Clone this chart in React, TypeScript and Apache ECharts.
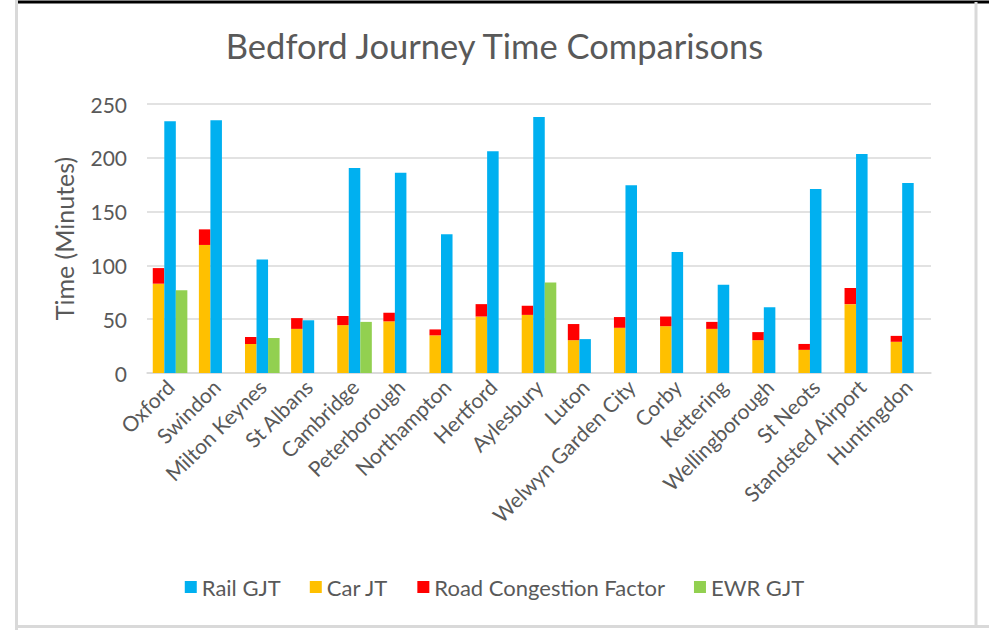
import React, { useEffect, useRef } from "react";
import * as echarts from "echarts";

const categories = [
  "Oxford", "Swindon", "Milton Keynes", "St Albans", "Cambridge", "Peterborough",
  "Northampton", "Hertford", "Aylesbury", "Luton", "Welwyn Garden City", "Corby",
  "Kettering", "Wellingborough", "St Neots", "Standsted Airport", "Huntingdon",
];
const railGJT = [234, 235, 105.5, 49, 190.5, 186, 129, 206, 238, 31.5, 174.5, 112.5, 82, 61, 171, 203.5, 176.5];
const carJT = [83, 119, 27, 41, 44.5, 48, 35, 52.5, 54, 30.5, 42, 43.5, 41, 30.5, 21.5, 64, 29];
const roadCongestion = [14.5, 14.5, 6.5, 10, 8.5, 8, 5.5, 11.5, 8.5, 15, 10, 9, 6.5, 7.5, 5.5, 15, 5.5];
const ewrGJT: (number | null)[] = [77, null, 32.5, null, 47.5, null, null, null, 84, null, null, null, null, null, null, null, null];
const yTicks = { min: 0, max: 250, interval: 50 };

const FONT = "Lato";
const TEXT = "#595959";
const GRID = "#D9D9D9";

export default function App() {
  const ref = useRef<HTMLDivElement>(null);
  useEffect(() => {
    if (!ref.current) return;
    const chart = echarts.init(ref.current, null, { renderer: "svg" });
    chart.setOption({
      animation: false,
      backgroundColor: "#ffffff",
      textStyle: { fontFamily: FONT },
      title: {
        text: "Bedford Journey Time Comparisons",
        left: "center",
        top: 23,
        textStyle: { fontFamily: FONT, fontSize: 34.5, fontWeight: "normal", color: TEXT },
      },
      legend: {
        data: ["Rail GJT", "Car JT", "Road Congestion Factor", "EWR GJT"],
        bottom: 27,
        left: "center",
        icon: "rect",
        itemWidth: 12,
        itemHeight: 12,
        itemGap: 29,
        textStyle: { fontFamily: FONT, fontSize: 22, color: TEXT },
      },
      grid: { left: 147, right: 58, top: 104, bottom: 257 },
      xAxis: {
        type: "category",
        data: categories,
        axisLine: { lineStyle: { color: GRID, width: 1.5 } },
        axisTick: { show: false },
        axisLabel: {
          rotate: 45,
          interval: 0,
          margin: 10,
          fontFamily: FONT,
          fontSize: 21,
          color: TEXT,
        },
      },
      yAxis: {
        type: "value",
        min: yTicks.min,
        max: yTicks.max,
        interval: yTicks.interval,
        name: "Time (Minutes)",
        nameLocation: "middle",
        nameGap: 71,
        nameTextStyle: { fontFamily: FONT, fontSize: 25, color: TEXT },
        axisLine: { show: false },
        axisTick: { show: false },
        axisLabel: { margin: 20, fontFamily: FONT, fontSize: 21, color: TEXT },
        splitLine: { lineStyle: { color: GRID, width: 1.5 } },
      },
      series: [
        {
          name: "Car JT", type: "bar", stack: "car", data: carJT,
          itemStyle: { color: "#FFC000" }, barGap: "0%", barCategoryGap: "25%",
        },
        {
          name: "Road Congestion Factor", type: "bar", stack: "car", data: roadCongestion,
          itemStyle: { color: "#FF0000" },
        },
        { name: "Rail GJT", type: "bar", data: railGJT, itemStyle: { color: "#00B0F0" } },
        { name: "EWR GJT", type: "bar", data: ewrGJT, itemStyle: { color: "#92D050" } },
      ],
      graphic: [
        { type: "line", shape: { x1: 16.5, y1: 0, x2: 16.5, y2: 630 }, style: { stroke: "#D9D9D9", lineWidth: 3 } },
        { type: "line", shape: { x1: 18, y1: 2, x2: 989, y2: 2 }, style: { stroke: "#000000", lineWidth: 3 } },
        { type: "line", shape: { x1: 976, y1: 2, x2: 976, y2: 626 }, style: { stroke: "#D9D9D9", lineWidth: 3 } },
        { type: "line", shape: { x1: 18, y1: 626.5, x2: 989, y2: 626.5 }, style: { stroke: "#D9D9D9", lineWidth: 3 } },
      ],
    });
    return () => chart.dispose();
  }, []);
  return (
    <div
      ref={ref}
      style={{ position: "fixed", left: 0, top: 0, width: 989, height: 630 }}
    />
  );
}
